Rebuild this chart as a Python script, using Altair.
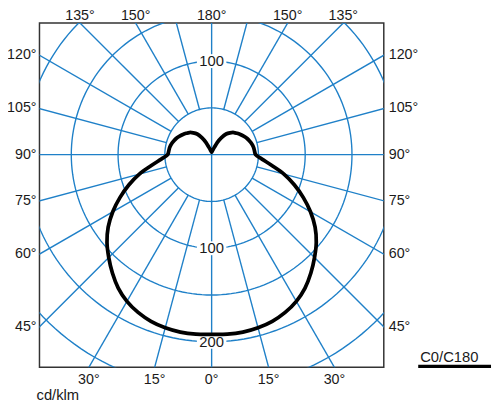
import math
import altair as alt
import pandas as pd

# ---- data ----
gamma = list(range(0, 181, 5))
intensity = [192, 192.5, 192.5, 191.5, 189.5, 186, 181, 174, 165, 155.5, 146, 135, 122,
             108, 94, 80, 65, 54, 47, 46, 45.5, 44.5, 43, 41.5, 39.5, 37.5, 35.5, 33.5,
             30.5, 27, 21, 14.5, 8, 5.5, 4, 3, 2.8]
ring_radii = [50, 100, 150, 200, 250, 300]
spoke_angles = list(range(0, 360, 15))
side_labels = [45, 60, 75, 90, 105, 120]
bottom_labels = [0, 15, 30]
top_labels = [135, 150, 180]
ring_label_text = ["100", "100", "200"]
ring_label_value = [100, -100, -200]
unit_label = "cd/klm"
plane_label = "C0/C180"

# ---- layout constants ----
XMIN, XMAX = -184.0, 184.0
YMIN, YMAX = -227.3, 140.7
W = H = 350
GRID = "#1f80c8"
FONT = "Liberation Sans"
TXT = "#1a1a1a"

xs = alt.Scale(domain=[XMIN, XMAX], nice=False, zero=False)
ys = alt.Scale(domain=[YMIN, YMAX], nice=False, zero=False)
X = lambda f="x": alt.X(f"{f}:Q", scale=xs, axis=None)
Y = lambda f="y": alt.Y(f"{f}:Q", scale=ys, axis=None)

# curve table (C180 on the left, C0 on the right)
rows = []
for i, (g, v) in enumerate(zip(gamma, intensity)):
    rows.append(dict(g=g, v=v, s=-1, o=i))
for j, (g, v) in enumerate(reversed(list(zip(gamma, intensity)))):
    rows.append(dict(g=g, v=v, s=1, o=len(gamma) + j))
curve_df = pd.DataFrame(rows)

ring_df = pd.DataFrame([dict(r=r, a=a) for r in ring_radii for a in range(0, 361, 2)])
spoke_df = pd.DataFrame([dict(a=a, r0=(0 if a % 90 == 0 else 50), r1=400) for a in spoke_angles])

rings = alt.Chart(ring_df).transform_calculate(
    x="datum.r*sin(datum.a*PI/180)", y="datum.r*cos(datum.a*PI/180)"
).mark_line(color=GRID, strokeWidth=1.4, clip=True).encode(
    x=X(), y=Y(), detail="r:N", order="a:Q")

spokes = alt.Chart(spoke_df).transform_calculate(
    x="datum.r0*sin(datum.a*PI/180)", y="datum.r0*cos(datum.a*PI/180)",
    x2="datum.r1*sin(datum.a*PI/180)", y2="datum.r1*cos(datum.a*PI/180)"
).mark_rule(color=GRID, strokeWidth=1.4, clip=True).encode(
    x=X(), y=Y(), x2="x2:Q", y2="y2:Q")

rl_df = pd.DataFrame(dict(t=ring_label_text, x=[0] * 3, y=ring_label_value))
boxes = alt.Chart(rl_df).mark_point(
    shape="M-1,-0.47L1,-0.47L1,0.47L-1,0.47Z", size=900, filled=True,
    color="white", opacity=1, strokeWidth=0).encode(x=X(), y=Y())
rtext = alt.Chart(rl_df).mark_text(font=FONT, fontSize=15, color=TXT, baseline="middle").encode(
    x=X(), y=Y(), text="t:N")

curve = alt.Chart(curve_df).transform_calculate(
    x="datum.s*datum.v*sin(datum.g*PI/180)", y="-datum.v*cos(datum.g*PI/180)"
).mark_line(color="black", strokeWidth=3.8, interpolate="catmull-rom", clip=True).encode(
    x=X(), y=Y(), order="o:Q")

# angle labels where the spokes meet the frame
lab = []
for g in side_labels:
    yv = -XMAX * math.cos(math.radians(g)) / math.sin(math.radians(g))
    lab.append(dict(t=f"{g}°", x=XMIN, y=yv, side="L"))
    lab.append(dict(t=f"{g}°", x=XMAX, y=yv, side="R"))
bl, tl = [], []
for g in bottom_labels:
    xv = -YMIN * math.tan(math.radians(g))
    bl.append(dict(t=f"{g}°", x=-xv, y=YMIN))
    if g:
        bl.append(dict(t=f"{g}°", x=xv, y=YMIN))
for g in top_labels:
    xv = YMAX * math.tan(math.radians(180 - g))
    tl.append(dict(t=f"{g}°", x=-xv, y=YMAX))
    if g != 180:
        tl.append(dict(t=f"{g}°", x=xv, y=YMAX))
lab_df = pd.DataFrame(lab)

FS = 14.5
left = alt.Chart(lab_df[lab_df.side == "L"]).mark_text(
    font=FONT, fontSize=FS, color=TXT, align="right", baseline="middle", dx=-3).encode(
    x=X(), y=Y(), text="t:N")
right = alt.Chart(lab_df[lab_df.side == "R"]).mark_text(
    font=FONT, fontSize=FS, color=TXT, align="left", baseline="middle", dx=5).encode(
    x=X(), y=Y(), text="t:N")
bottom = alt.Chart(pd.DataFrame(bl)).mark_text(
    font=FONT, fontSize=FS, color=TXT, align="center", baseline="middle", dy=13).encode(
    x=X(), y=Y(), text="t:N")
top = alt.Chart(pd.DataFrame(tl)).mark_text(
    font=FONT, fontSize=FS, color=TXT, align="center", baseline="middle", dy=-7).encode(
    x=X(), y=Y(), text="t:N")

dummy = alt.Data(values=[{}])
unit = alt.Chart(dummy).mark_text(
    font=FONT, fontSize=15, color=TXT, align="left", baseline="alphabetic", text=unit_label
).encode(x=alt.value(-3), y=alt.value(383))
plane = alt.Chart(dummy).mark_text(
    font=FONT, fontSize=15, color=TXT, align="left", baseline="middle", text=plane_label
).encode(x=alt.value(387), y=alt.value(340))
plane_rule = alt.Chart(dummy).mark_rule(color="black", strokeWidth=3.5).encode(
    x=alt.value(385), x2=alt.value(459), y=alt.value(349))

chart = alt.layer(
    rings, spokes, boxes, rtext, curve, left, right, bottom, top, unit, plane, plane_rule
).properties(
    width=W, height=H,
    autosize=alt.AutoSizeParams(type="none"),
    padding={"left": 32, "top": 12, "right": 110, "bottom": 36},
).configure_view(stroke="#333333", strokeWidth=1.5)

chart.save("out.html", embed_options={"renderer": "svg", "actions": False})
